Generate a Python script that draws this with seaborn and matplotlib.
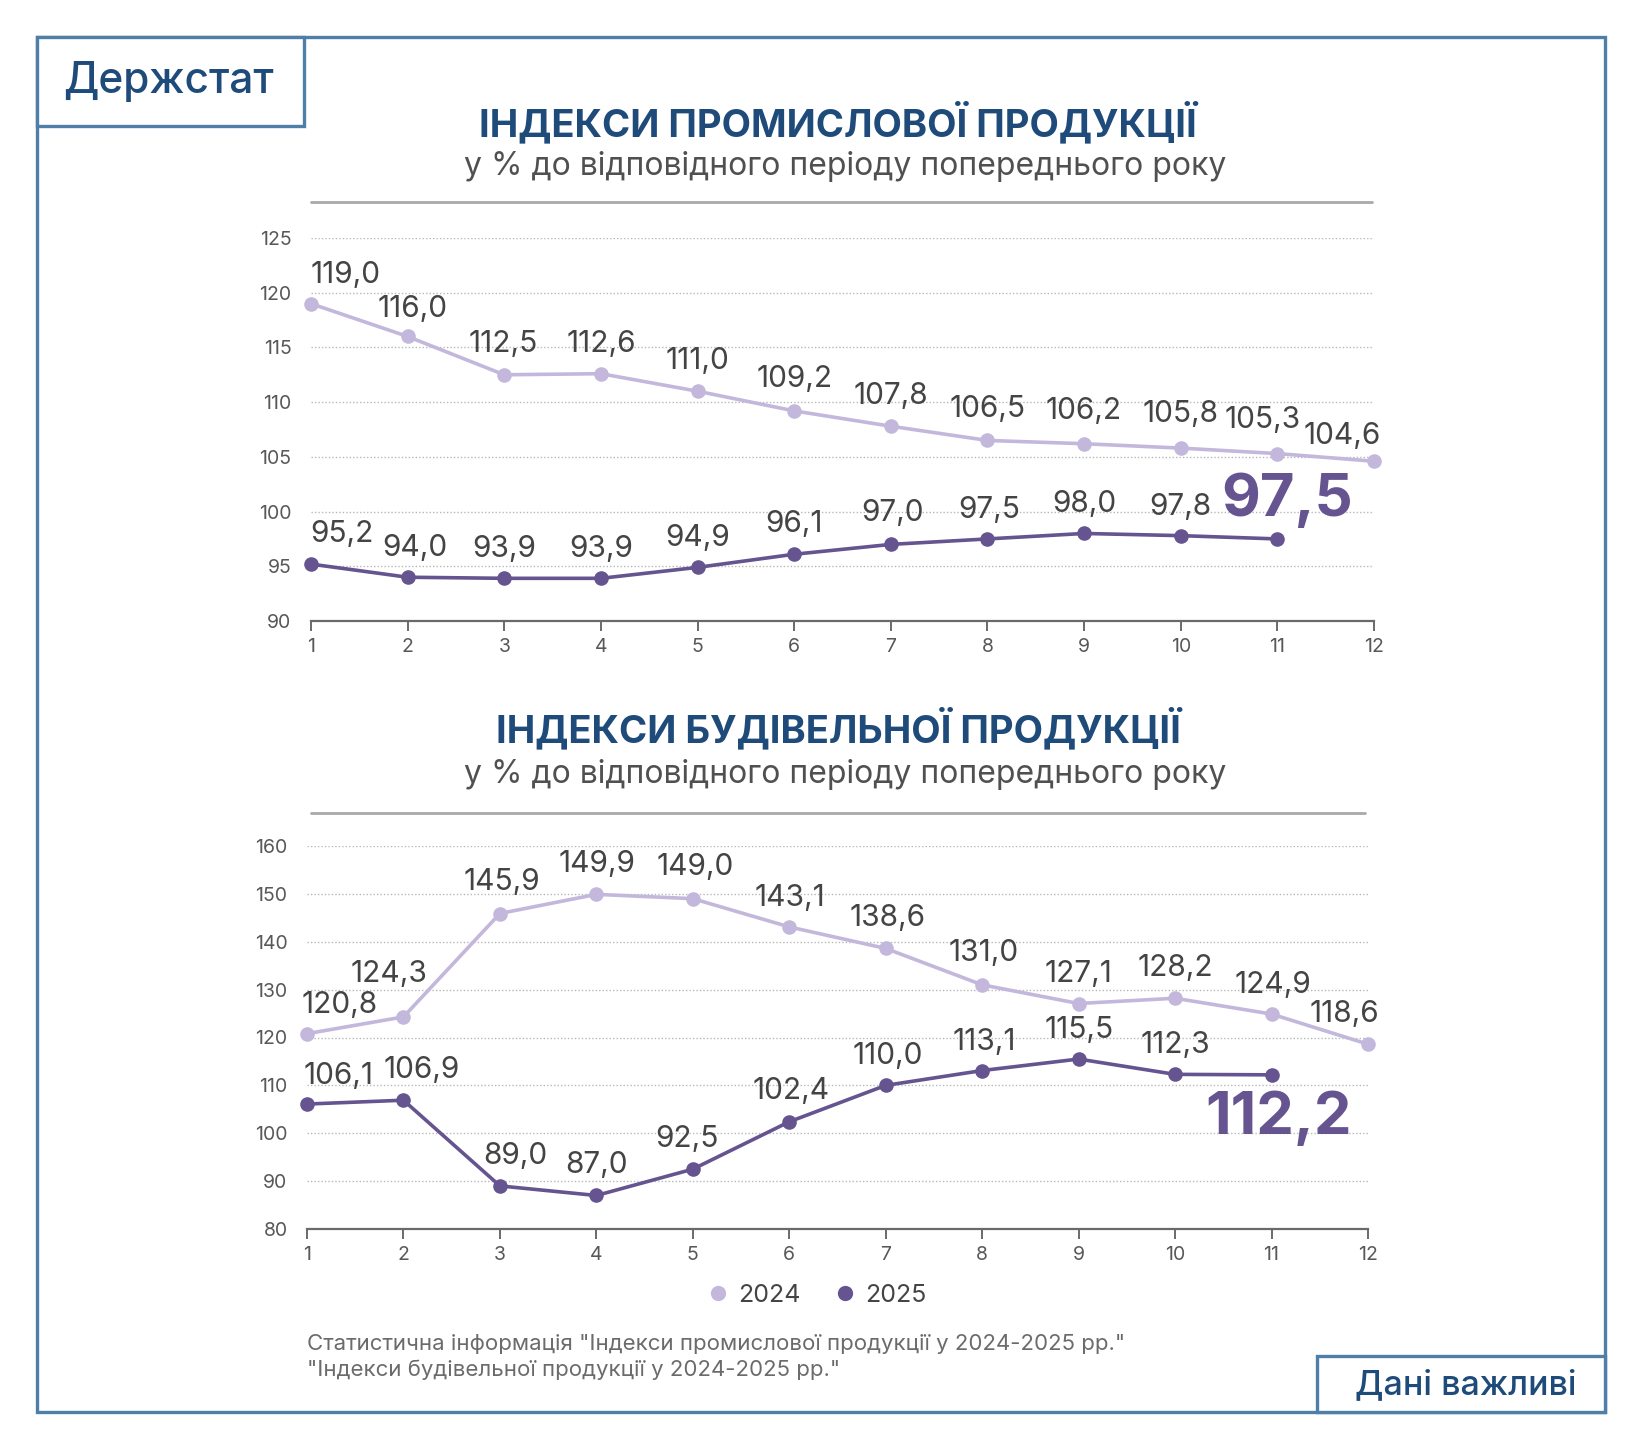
import numpy as np
import pandas as pd
import matplotlib
matplotlib.use("Agg")
import matplotlib.pyplot as plt
import seaborn as sns
from matplotlib.lines import Line2D
from matplotlib.patches import Rectangle

# ---------------- data ----------------
months = list(range(1, 13))
ind_2024 = [119.0, 116.0, 112.5, 112.6, 111.0, 109.2, 107.8, 106.5, 106.2, 105.8, 105.3, 104.6]
ind_2025 = [95.2, 94.0, 93.9, 93.9, 94.9, 96.1, 97.0, 97.5, 98.0, 97.8, 97.5]
con_2024 = [120.8, 124.3, 145.9, 149.9, 149.0, 143.1, 138.6, 131.0, 127.1, 128.2, 124.9, 118.6]
con_2025 = [106.1, 106.9, 89.0, 87.0, 92.5, 102.4, 110.0, 113.1, 115.5, 112.3, 112.2]
years = ["2024", "2025"]

title1 = "ІНДЕКСИ ПРОМИСЛОВОЇ ПРОДУКЦІЇ"
title2 = "ІНДЕКСИ БУДІВЕЛЬНОЇ ПРОДУКЦІЇ"
subtitle = "у % до відповідного періоду попереднього року"
footer1 = "Статистична інформація \"Індекси промислової продукції у 2024-2025 рр.\""
footer2 = "\"Індекси будівельної продукції у 2024-2025 рр.\""

def fmt(v):
    return f"{v:.1f}".replace(".", ",")

# ---------------- style ----------------
sns.set_theme(style="white")
FONT = ["Inter", "DejaVu Sans"]
plt.rcParams["font.family"] = FONT

C24 = "#c3b8dc"
C25 = "#65548f"
TXT = "#444444"
TICK = "#585858"
BLUE = "#1f4b7a"
FRAME = "#4f7ea9"

W, H = 1640, 1448
fig = plt.figure(figsize=(W / 100, H / 100), dpi=100)
fig.patch.set_facecolor("white")

def fx(px):
    return px / W

def fy(py):
    return 1 - py / H

def axes_px(left, right, top, bottom):
    return fig.add_axes([fx(left), fy(bottom), fx(right) - fx(left), (bottom - top) / H])

# frame
fig.add_artist(Rectangle((fx(37), fy(1412)), fx(1605) - fx(37), (1412 - 37) / H,
                         transform=fig.transFigure, fill=False, ec=FRAME, lw=2.4))
fig.add_artist(Rectangle((fx(37), fy(126)), fx(304) - fx(37), (126 - 37) / H,
                         transform=fig.transFigure, fc="white", ec=FRAME, lw=2.4))
fig.text(fx(168), fy(82), "Держстат", ha="center", va="center", fontsize=30.5,
         color=BLUE, fontweight="medium")
fig.add_artist(Rectangle((fx(1317), fy(1412)), fx(1605) - fx(1317), (1412 - 1356) / H,
                         transform=fig.transFigure, fc="white", ec=FRAME, lw=2.4))
fig.text(fx(1466), fy(1385), "Дані важливі", ha="center", va="center", fontsize=24.5,
         color=BLUE, fontweight="medium")

# titles
for ty, sy, ly, lx2, t in [(123, 167, 202, 1372, title1), (729, 774, 813, 1365, title2)]:
    fig.text(fx(838), fy(ty), t, ha="center", va="center", fontsize=27.5,
             fontweight="bold", color=BLUE)
    fig.text(fx(845), fy(sy), subtitle, ha="center", va="center", fontsize=23, color="#505050")
    fig.add_artist(Line2D([fx(311), fx(lx2)], [fy(ly), fy(ly)], transform=fig.transFigure,
                          color="#a9a9a9", lw=2))


def draw_panel(ax, s24, s25, ylim, yticks, off24, off25, big_val, big_xy):
    df = pd.DataFrame({
        "month": months[:len(s24)] + months[:len(s25)],
        "value": s24 + s25,
        "year": [years[0]] * len(s24) + [years[1]] * len(s25),
    })
    for yv in yticks[1:]:
        ax.axhline(yv, color="#b8b8b8", lw=1.0, ls=(0, (1, 1.5)), zorder=0)
    sns.lineplot(data=df, x="month", y="value", hue="year", palette=[C24, C25],
                 marker="o", markersize=10.5, markeredgewidth=0, linewidth=2.6,
                 legend=False, ax=ax, clip_on=False, zorder=3)
    ax.set_xlim(1, 12)
    ax.set_ylim(*ylim)
    ax.set_xticks(months)
    ax.set_yticks(yticks)
    ax.set_xlabel("")
    ax.set_ylabel("")
    ax.set_facecolor("none")
    for s in ["top", "right", "left"]:
        ax.spines[s].set_visible(False)
    ax.spines["bottom"].set_color("#6a6a6a")
    ax.spines["bottom"].set_linewidth(1.6)
    ax.tick_params(axis="x", direction="out", length=7, width=1.4, color="#6a6a6a",
                   labelsize=14, labelcolor=TICK, pad=5, bottom=True)
    ax.tick_params(axis="y", length=0, labelsize=14, labelcolor=TICK, pad=14)
    for series, offs in [(s24, off24), (s25, off25)]:
        for i, v in enumerate(series):
            if offs[i] is None:
                continue
            dx, dy = offs[i]
            ax.annotate(fmt(v), (months[i], v), xytext=(dx * 1.047, -dy * 1.047),
                        textcoords="offset pixels", ha="center", va="center",
                        fontsize=21.5, color=TXT, zorder=5)
    fig.text(fx(big_xy[0]), fy(big_xy[1]), fmt(big_val), ha="center", va="center",
             fontsize=43, fontweight="bold", color=C25)


ax1 = axes_px(311, 1374, 238, 621)
off_i24 = [(33, -27), (5, -26), (-1, -29), (0, -28), (0, -29), (0, -30), (0, -29),
           (0, -30), (0, -31), (0, -33), (-14, -32), (-30, -24)]
off_i25 = [(30, -29), (7, -28), (0, -28), (0, -28), (0, -28), (0, -29), (2, -30),
           (2, -28), (0, -28), (0, -27), None]
draw_panel(ax1, ind_2024, ind_2025, (90, 125), list(range(90, 126, 5)),
           off_i24, off_i25, ind_2025[-1], (1287, 500))

ax2 = axes_px(307, 1368, 846, 1229)
off_c24 = [(31, -27), (-14, -41), (2, -30), (1, -29), (2, -30), (1, -28), (2, -29),
           (1, -30), (0, -28), (0, -29), (1, -28), (-23, -29)]
off_c25 = [(30, -27), (17, -29), (15, -29), (0, -29), (-6, -29), (2, -29), (2, -28),
           (2, -27), (0, -28), (0, -28), None]
draw_panel(ax2, con_2024, con_2025, (80, 160), list(range(80, 161, 10)),
           off_c24, off_c25, con_2025[-1], (1279, 1118))

# legend
handles = [Line2D([], [], marker="o", ls="none", color=c, markersize=11, markeredgewidth=0)
           for c in (C24, C25)]
fig.legend(handles, years, loc="center", bbox_to_anchor=(fx(816), fy(1295)), ncol=2,
           frameon=False, fontsize=18, handletextpad=0.3, columnspacing=1.3,
           labelcolor=TXT, handlelength=1.0)

# footer
fig.text(fx(307), fy(1344), footer1, ha="left", va="center", fontsize=16, color="#6b6b6b")
fig.text(fx(307), fy(1370), footer2, ha="left", va="center", fontsize=16, color="#6b6b6b")

fig.savefig("out.png", dpi=100, facecolor="white")
